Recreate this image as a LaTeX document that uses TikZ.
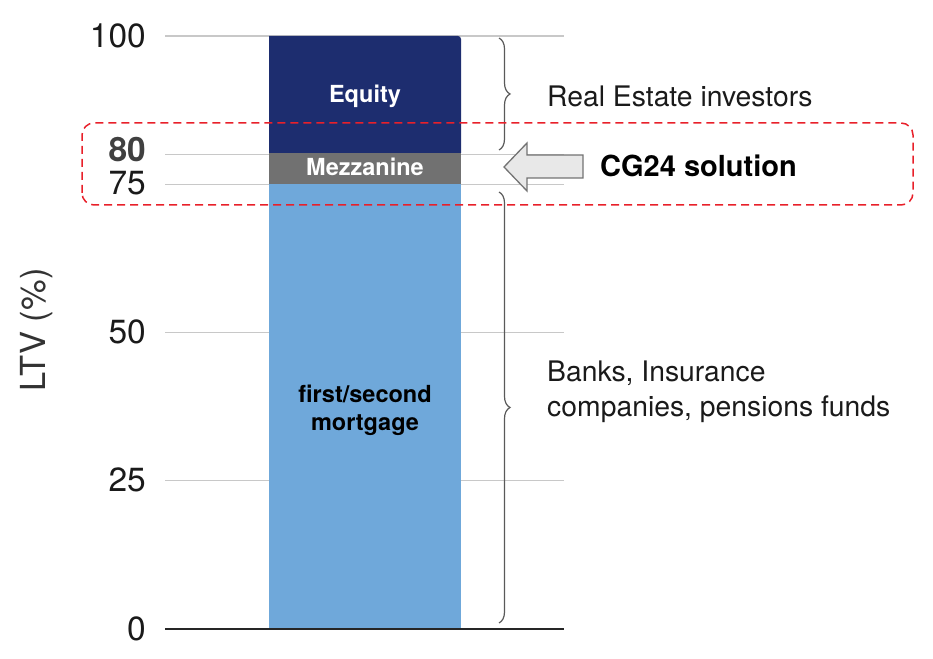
\documentclass[tikz,border=0pt]{standalone}
\usepackage{fontspec}
\setmainfont{TeX Gyre Heros}
\usetikzlibrary{decorations.pathreplacing}
\definecolor{navy}{HTML}{1D2D6F}
\definecolor{mezz}{HTML}{717171}
\definecolor{lblue}{HTML}{6FA8DA}
\definecolor{grid}{HTML}{C8C8C8}
\definecolor{redd}{HTML}{E8202A}
\definecolor{txt}{HTML}{1A1A1A}
\tikzset{
  gridline/.style={draw=grid,line width=1.4pt},
  ticklab/.style={anchor=east,inner sep=0pt,text=txt,font=\fontsize{33.5}{38}\selectfont},
  barlab/.style={inner sep=0pt,align=center,font=\bfseries\fontsize{23.5}{28}\selectfont},
  sidelab/.style={anchor=west,inner sep=0pt,align=left,text=txt,font=\fontsize{28.3}{35}\selectfont},
  bracestyle/.style={draw=black!65,line width=1.2pt,decorate,decoration={brace,amplitude=11pt,aspect=0.5}}
}
\begin{document}
\begin{tikzpicture}[x=1pt,y=1pt]
\useasboundingbox (0,0) rectangle (933,658);
% grid lines
\foreach \v in {100,80,75,50,25}{
  \draw[gridline] (165,{29+5.93*\v}) -- (564,{29+5.93*\v});
}
% bars
\fill[lblue] (269,29) rectangle (461,474);
\fill[mezz] (269,474) rectangle (461,505);
\fill[navy] (269,505) -- (269,622) [rounded corners=3pt] -- (461,622) [sharp corners] -- (461,505) -- cycle;
% axis
\draw[black!85,line width=2.4pt] (165,29) -- (564,29);
% bar labels
\node[barlab,text=white] (equity) at (365,562) {Equity};
\node[barlab,text=white] (mezzanine) at (365,491) {Mezzanine};
\node[barlab,text=black] (mortgage) at (365,248) {first/second\\mortgage};
% tick labels
\node[ticklab] (t100) at (146,622) {100};
\node[ticklab,font=\bfseries\fontsize{33.5}{38}\selectfont,text=black!75] (t80) at (146,508) {80};
\node[ticklab] (t75) at (146,475) {75};
\node[ticklab] (t50) at (146,326) {50};
\node[ticklab] (t25) at (146,178) {25};
\node[ticklab] (t0) at (146,29) {0};
% axis title
\node[rotate=90,inner sep=0pt,text=black!80,font=\fontsize{34.5}{40}\selectfont] (ytitle) at (37,328) {LTV (\%)};
% braces
\coordinate (b1a) at (499,620);
\coordinate (b1b) at (499,508);
\coordinate (b2a) at (499,466);
\coordinate (b2b) at (499,35);
\draw[bracestyle] (b1a) -- (b1b);
\draw[bracestyle] (b2a) -- (b2b);
% side labels
\node[sidelab] (rei) at (547,562) {Real Estate investors};
\node[sidelab] (banks) at (547,266) {Banks, Insurance\\companies, pensions funds};
% red dashed box
\draw[redd,line width=1.5pt,dash pattern=on 8pt off 5pt,rounded corners=12pt] (82,453) rectangle (913,535);
% arrow
\draw[black!55,fill=black!9,line width=1.3pt,line join=miter] (504,491) -- (527,515) -- (527,503) -- (583,503) -- (583,480) -- (527,480) -- (527,467) -- cycle;
\node[anchor=west,inner sep=0pt,text=black,font=\bfseries\fontsize{29}{34}\selectfont] (cg) at (600,492) {CG24 solution};
\end{tikzpicture}
\end{document}
